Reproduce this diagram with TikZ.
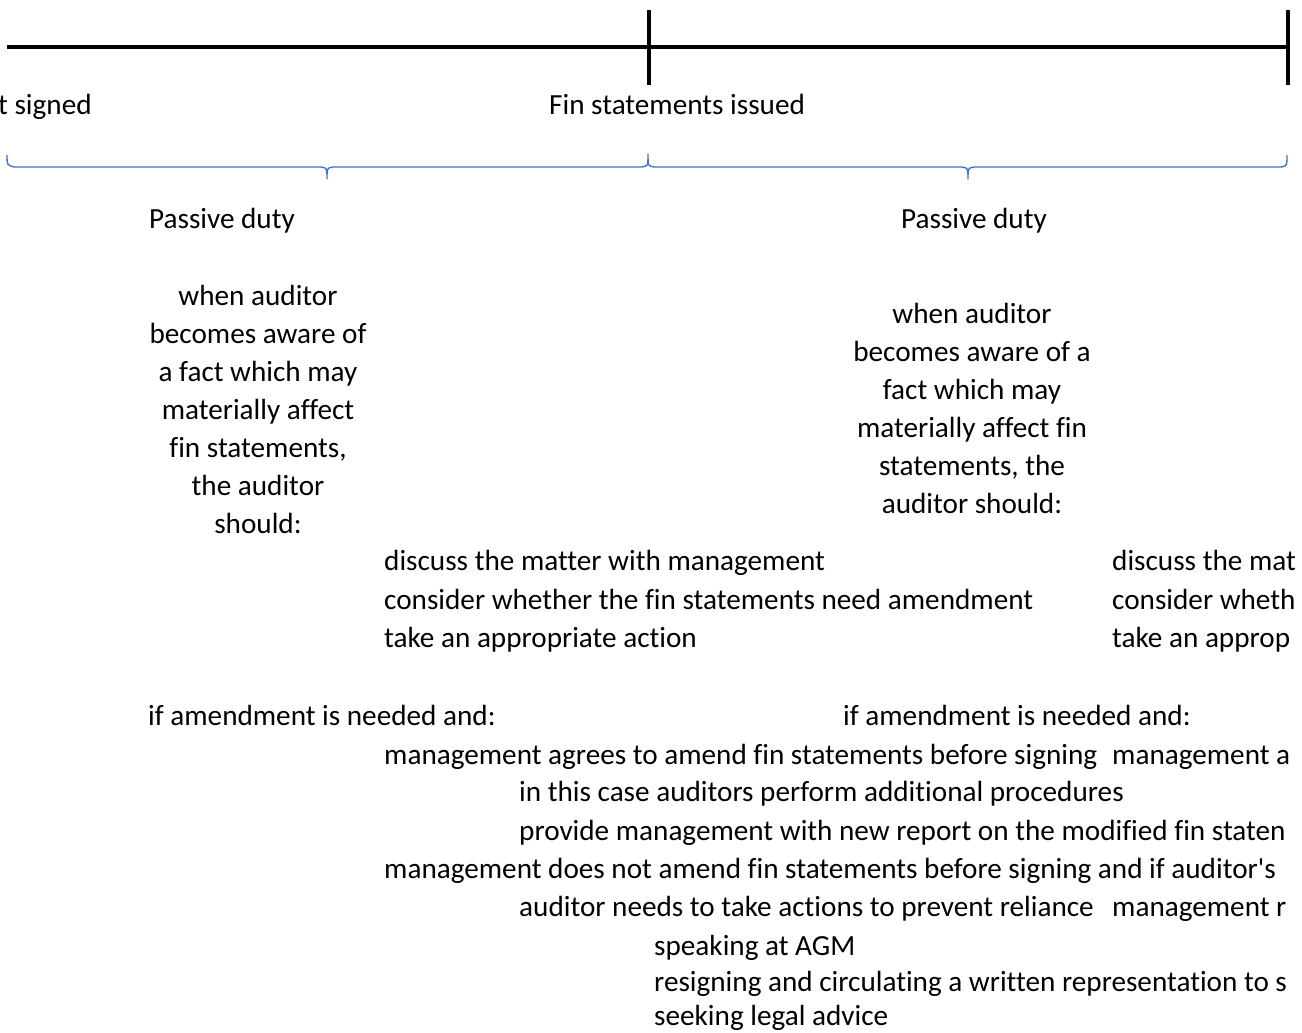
\documentclass[tikz,border=0pt]{standalone}
\usepackage{fontspec}
\setmainfont{Carlito}[Ligatures={NoCommon,TeXOff}]
\definecolor{bracecol}{HTML}{4472C4}
\begin{document}
\begin{tikzpicture}[x=1pt,y=-1pt,
  txt/.style={inner sep=0pt,anchor=base west,font=\fontsize{29.2}{38}\selectfont},
  ctxt/.style={inner sep=0pt,anchor=base,font=\fontsize{29.2}{38}\selectfont},
  tl/.style={line width=3.5pt,black},
  brace/.style={line width=1.4pt,bracecol,line join=round}]
\useasboundingbox (0,0) rectangle (1302,1033);
\clip (0,0) rectangle (1302,1033);
% timeline
\coordinate (tlA) at (7,47);
\coordinate (tlB) at (1290,47);
\coordinate (t1a) at (649,10);
\coordinate (t1b) at (649,85);
\coordinate (t2a) at (1288,10);
\coordinate (t2b) at (1288,85);
\draw[tl] (tlA) -- (tlB);
\draw[tl] (t1a) -- (t1b);
\draw[tl] (t2a) -- (t2b);
\node[txt] (signed) at (-2,114) {t signed};
\node[txt] (issued) at (549,114) {Fin statements issued};
% braces
\draw[brace] (7,155) .. controls (7,165) .. (14,167) -- (321,167) .. controls (327,168) .. (327,179)
  .. controls (327,168) .. (333,167) -- (642,167) .. controls (648,166) .. (648,154)
  .. controls (648,166) .. (654,167) -- (962,167) .. controls (968,168) .. (968,179)
  .. controls (968,168) .. (974,167) -- (1281,167) .. controls (1287,166) .. (1287,155);
\node[ctxt] (pd1) at (222,228) {Passive duty};
\node[ctxt] (pd2) at (974,228) {Passive duty};
% left block
\node[ctxt] (l1) at (258,305) {when auditor};
\node[ctxt] (l2) at (258,343) {becomes aware of};
\node[ctxt] (l3) at (258,381) {a fact which may};
\node[ctxt] (l4) at (258,419) {materially affect};
\node[ctxt] (l5) at (258,457) {fin statements,};
\node[ctxt] (l6) at (258,495) {the auditor};
\node[ctxt] (l7) at (258,533) {should:};
% right block
\node[ctxt] (r1) at (972,323) {when auditor};
\node[ctxt] (r2) at (972,361) {becomes aware of a};
\node[ctxt] (r3) at (972,399) {fact which may};
\node[ctxt] (r4) at (972,437) {materially affect fin};
\node[ctxt] (r5) at (972,475) {statements, the};
\node[ctxt] (r6) at (972,513) {auditor should:};
% lists
\node[txt] (a1) at (384,570) {discuss the matter with management};
\node[txt] (a2) at (384,609) {consider whether the fin statements need amendment};
\node[txt] (a3) at (384,647) {take an appropriate action};
\node[txt] (b1) at (1112,570) {discuss the mat};
\node[txt] (b2) at (1112,609) {consider wheth};
\node[txt] (b3) at (1112,647) {take an approp};
\node[txt] (if1) at (148,725) {if amendment is needed and:};
\node[txt] (if2) at (843,725) {if amendment is needed and:};
\node[txt] (m1) at (384,764) {management agrees to amend fin statements before signing};
\node[txt] (m1b) at (1112,764) {management a};
\node[txt] (m2) at (519,801) {in this case auditors perform additional procedures};
\node[txt] (m3) at (519,840) {provide management with new report on the modified fin staten};
\node[txt] (m4) at (384,878) {management does not amend fin statements before signing and if auditor's};
\node[txt] (m5) at (519,916) {auditor needs to take actions to prevent reliance};
\node[txt] (m5b) at (1112,916) {management r};
\node[txt] (m6) at (654,955) {speaking at AGM};
\node[txt] (m7) at (654,991) {resigning and circulating a written representation to s};
\node[txt] (m8) at (654,1025) {seeking legal advice};
\end{tikzpicture}
\end{document}
